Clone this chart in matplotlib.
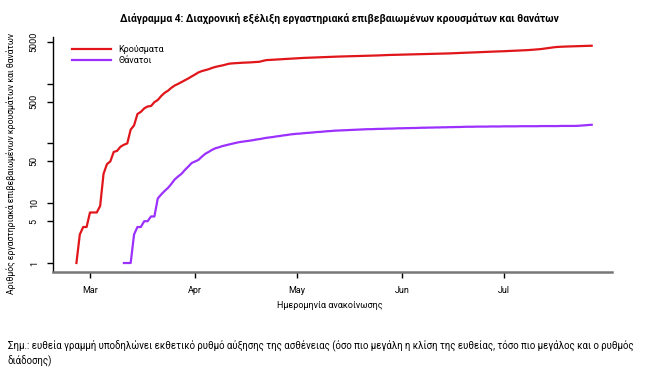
import pandas as pd
import matplotlib
matplotlib.use('Agg')
import matplotlib.pyplot as plt

plt.rcParams['font.family'] = ['Liberation Sans Narrow', 'Roboto', 'DejaVu Sans']

# cumulative confirmed cases, one value a day from 26 Feb 2020
cases_start = '2020-02-26'
cases = [1, 3, 4, 4, 7, 7, 7, 9, 31, 45,
         50, 72, 75, 88, 95, 100, 170, 200, 310, 337,
         385, 415, 422, 490, 532, 620, 700, 760, 850, 930,
         990, 1060, 1140, 1220, 1320, 1420, 1540, 1620, 1680, 1740,
         1830, 1900, 1960, 2010, 2080, 2150, 2180, 2200, 2220, 2235,
         2245, 2260, 2280, 2300, 2320, 2400, 2470, 2490, 2510, 2530,
         2550, 2570, 2590, 2610, 2630, 2650, 2670, 2690, 2700, 2720,
         2730, 2745, 2760, 2770, 2790, 2800, 2815, 2830, 2840, 2855,
         2870, 2880, 2890, 2900, 2910, 2915, 2920, 2930, 2940, 2960,
         2980, 3000, 3010, 3020, 3030, 3040, 3050, 3060, 3070, 3080,
         3090, 3100, 3110, 3120, 3130, 3140, 3150, 3160, 3170, 3180,
         3200, 3220, 3240, 3260, 3275, 3290, 3300, 3320, 3340, 3360,
         3380, 3390, 3410, 3430, 3450, 3460, 3480, 3500, 3520, 3540,
         3560, 3580, 3600, 3630, 3660, 3700, 3740, 3780, 3850, 3930,
         4000, 4060, 4110, 4140, 4160, 4180, 4200, 4220, 4240, 4255,
         4270, 4285, 4300]

# cumulative deaths, one value a day from 11 Mar 2020
deaths_start = '2020-03-11'
deaths = [1, 1, 1, 3, 4, 4, 5, 5, 6, 6,
          12, 14, 16, 18, 21, 25, 28, 31, 36, 41,
          47, 50, 53, 60, 67, 72, 78, 83, 86, 90,
          93, 96, 99, 102, 105, 107, 109, 111, 113, 116,
          118, 121, 124, 126, 128, 131, 133, 136, 138, 141,
          143, 145, 146, 148, 150, 151, 153, 155, 156, 158,
          160, 161, 163, 164, 165, 166, 167, 168, 169, 170,
          171, 172, 173, 173, 174, 175, 175, 176, 177, 177,
          178, 179, 179, 180, 180, 181, 181, 182, 183, 183,
          184, 184, 185, 185, 186, 186, 187, 187, 188, 188,
          189, 190, 190, 190, 191, 191, 191, 191, 192, 192,
          192, 192, 193, 193, 193, 193, 193, 194, 194, 194,
          194, 194, 194, 195, 195, 195, 195, 195, 195, 196,
          196, 196, 196, 196, 197, 199, 201, 203, 205]

case_dates = pd.date_range(cases_start, periods=len(cases), freq='D')
death_dates = pd.date_range(deaths_start, periods=len(deaths), freq='D')

y_ticks = [1, 5, 10, 50, 100, 500, 1000, 5000]
y_labels = ['1', '5', '10', '50', '', '500', '', '5000']
month_ticks = pd.to_datetime(['2020-03-01', '2020-04-01', '2020-05-01',
                              '2020-06-01', '2020-07-01'])
month_labels = ['Mar', 'Apr', 'May', 'Jun', 'Jul']

fig = plt.figure(figsize=(6.62, 3.82), dpi=100)
ax = fig.add_axes([0.0796, 0.2887, 0.8449, 0.6144])

ax.plot(case_dates, cases, color='#e0161b', lw=1.6, label='Κρούσματα')
ax.plot(death_dates, deaths, color='#9b30ff', lw=1.6, label='Θάνατοι')

ax.set_yscale('log')
ax.set_ylim(0.715, 6016)
ax.set_xlim(pd.Timestamp('2020-02-19'), pd.Timestamp('2020-08-02'))

ax.set_yticks(y_ticks)
ax.set_yticklabels(y_labels)
ax.yaxis.set_minor_locator(matplotlib.ticker.NullLocator())
for lab in ax.get_yticklabels():
    lab.set_rotation(90)
    lab.set_va('center')
ax.set_xticks(month_ticks)
ax.set_xticklabels(month_labels)
ax.xaxis.set_minor_locator(matplotlib.ticker.NullLocator())

ax.tick_params(axis='y', length=4, width=1, labelsize=6.5, pad=6)
ax.tick_params(axis='x', length=4, width=1, labelsize=6.5, pad=6)

for s in ['top', 'right']:
    ax.spines[s].set_visible(False)
ax.spines['left'].set_linewidth(1.0)
ax.spines['bottom'].set_color('#777777')
ax.spines['bottom'].set_linewidth(1.8)

ax.set_xlabel('Ημερομηνία ανακοίνωσης', fontsize=6.5)
ax.xaxis.set_label_coords(0.495, -0.125)
ax.set_ylabel('Αριθμός εργαστηριακά επιβεβαιωμένων κρουσμάτων και θανάτων', fontsize=6.2)
ax.yaxis.set_label_coords(-0.066, 0.46)

ax.legend(loc='upper left', bbox_to_anchor=(0.02, 1.0), frameon=False,
          fontsize=6.5, handlelength=4.3, handletextpad=0.8, labelspacing=0.25)

fig.text(0.512, 0.952,
         'Διάγραμμα 4: Διαχρονική εξέλιξη εργαστηριακά επιβεβαιωμένων κρουσμάτων και θανάτων',
         ha='center', va='center', fontsize=7.4, fontweight='bold')
fig.text(0.012, 0.076,
         'Σημ.: ευθεία γραμμή υποδηλώνει εκθετικό ρυθμό αύξησης της ασθένειας (όσο πιο μεγάλη η κλίση της ευθείας, '
         'τόσο πιο μεγάλος και ο ρυθμός\nδιάδοσης)',
         ha='left', va='center', fontsize=6.9, linespacing=1.5)

fig.savefig('out.png', dpi=100)
